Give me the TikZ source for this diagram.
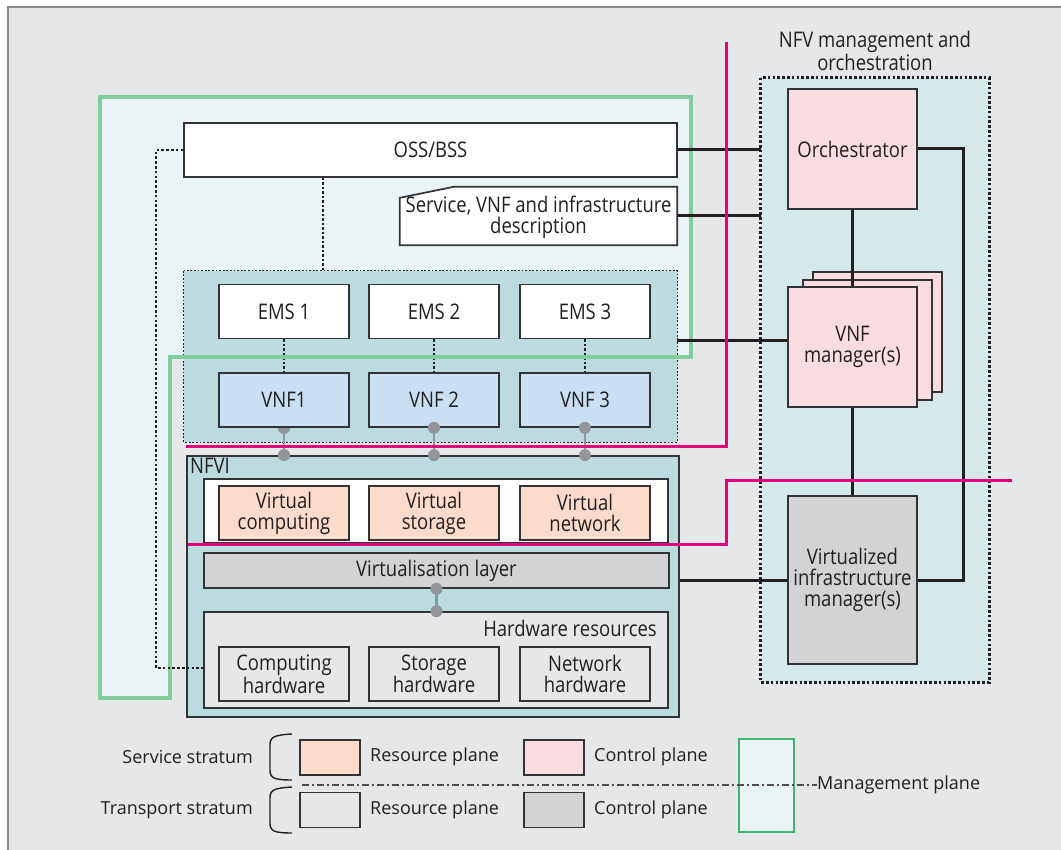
\documentclass[tikz,border=0pt]{standalone}
\usepackage{fontspec}
\setmainfont{Open Sans}
\newfontfamily\condfont[FakeStretch=0.86]{Open Sans}
\usetikzlibrary{calc}

\definecolor{bggray}{HTML}{E6E7E8}
\definecolor{framegray}{HTML}{8A8A8A}
\definecolor{boxline}{HTML}{333335}
\definecolor{txt}{HTML}{231F20}
\definecolor{mgmtfill}{HTML}{EAF3F5}
\definecolor{mgmtline}{HTML}{84CD9E}
\definecolor{mgmtkey}{HTML}{3FB56F}
\definecolor{tealfill}{HTML}{BBDBDE}
\definecolor{manofill}{HTML}{D5E8EA}
\definecolor{ctlpink}{HTML}{FBDCE0}
\definecolor{respeach}{HTML}{FDDBCB}
\definecolor{vnfblue}{HTML}{C9E0F2}
\definecolor{ctlgray}{HTML}{D1D3D4}
\definecolor{stratum}{HTML}{E6007E}
\definecolor{linkgray}{HTML}{939598}

\newcommand\lblfont{\condfont\fontsize{21.5}{21}\selectfont}
\newcommand\keyfont{\fontsize{18}{20}\selectfont}

\begin{document}
\begin{tikzpicture}[x=1pt,y=-1pt,
  box/.style={draw=boxline, line width=1.7pt, rectangle, inner sep=0pt,
    align=center, font=\lblfont, text=txt},
  cell/.style={box, minimum width=130, minimum height=54},
  swatch/.style={draw=boxline, line width=1.5pt, rectangle, inner sep=0pt,
    minimum width=60, minimum height=35},
  keytext/.style={font=\keyfont, text=txt, inner sep=0pt},
  link/.style={draw=txt, line width=3pt},
  hwlink/.style={draw=linkgray, line width=2.2pt},
  hwdot/.style={fill=linkgray},
  finedash/.style={draw=txt, line width=1.3pt, dash pattern=on 2.5pt off 2pt},
  finedot/.style={draw=txt, line width=1.3pt, dash pattern=on 1.8pt off 1.8pt},
  heavydot/.style={draw=txt, line width=2.8pt, dash pattern=on 2.6pt off 2.2pt},
  stratumline/.style={draw=stratum, line width=3pt},
]
\useasboundingbox (0,0) rectangle (1061,850);
\fill[white] (0,0) rectangle (1061,850);
\fill[bggray] (8,7) rectangle (1061,850);
\draw[framegray, line width=2pt] (8,850) -- (8,7) -- (1061,7);

% management plane area (fill only; outline drawn later on top)
\fill[mgmtfill] (100,97) -- (691,97) -- (691,357) -- (170,357) -- (170,698) -- (100,698) -- cycle;

% OSS/BSS and the description
\node[box, fill=white, minimum width=493, minimum height=54] (oss) at (430.5,150) {OSS/BSS};
\node[minimum width=277, minimum height=58, inner sep=0pt] (desc) at (538.5,216) {};
\filldraw[fill=white, draw=boxline, line width=1.7pt]
  ($(desc.north west)+(0,11)$) -- ($(desc.north west)+(54,0)$) -- (desc.north east)
  -- (desc.south east) -- (desc.south west) -- cycle;
\node[font=\lblfont, text=txt, align=center, inner sep=0pt] (desctext) at ($(desc.center)+(0,1)$)
  {Service, VNF and infrastructure\\description};

% EMS / VNF group
\node[draw=none, fill=tealfill, minimum width=493, minimum height=171, inner sep=0pt] (grp) at (430.5,356.5) {};
\draw[finedot] (grp.north west) rectangle (grp.south east);

\foreach \i/\x in {1/284,2/434,3/585}{
  \node[cell, fill=white] (ems\i) at (\x,311.5) {EMS \i};
}
% the first VNF's port dot sits partly under its box
\fill[hwdot] (284,428) circle (6);
\node[cell, fill=vnfblue] (vnf1) at (284,400) {VNF1};
\node[cell, fill=vnfblue] (vnf2) at (434,400) {VNF 2};
\node[cell, fill=vnfblue] (vnf3) at (585,400) {VNF 3};
\foreach \i in {1,2,3}{
  \draw[finedash] (ems\i.south) -- (vnf\i.north);
}
\draw[finedash] (oss.south -| 323,0) -- (grp.north -| 323,0);

% NFVI
\node[box, fill=tealfill, minimum width=492, minimum height=261] (nfvi) at (433,586.5) {};
\node[font=\lblfont, text=txt, anchor=north west, inner sep=0pt] (nfvilabel) at (190,458) {NFVI};
\node[box, fill=white, minimum width=464, minimum height=64] (vres) at (436,511) {};
\node[cell, fill=respeach] (vcomp) at (284,513) {Virtual\\computing};
\node[cell, fill=respeach] (vstor) at (434,513) {Virtual\\storage};
\node[cell, fill=respeach] (vnet) at (585,513) {Virtual\\network};
\node[box, fill=ctlgray, minimum width=465, minimum height=35] (vlayer) at (436.5,570.5) {Virtualisation layer};
\node[box, fill=bggray, minimum width=464, minimum height=96] (hw) at (436,660) {};
\node[font=\lblfont, text=txt, anchor=east, inner sep=0pt] (hwlabel) at (657,628) {Hardware resources};
\node[cell, fill=bggray] (hwcomp) at (284,674) {Computing\\hardware};
\node[cell, fill=bggray] (hwstor) at (434,674) {Storage\\hardware};
\node[cell, fill=bggray] (hwnet) at (585,674) {Network\\hardware};

% links from the VNFs down to the NFVI, and inside the NFVI
\draw[hwlink] (vnf1.south) -- (nfvi.north -| vnf1.south);
\foreach \i in {2,3}{
  \draw[hwlink] (vnf\i.south) -- (nfvi.north -| vnf\i.south);
  \fill[hwdot] (vnf\i.south) circle (6);
}
\foreach \i in {1,2,3}{
  \fill[hwdot] (nfvi.north -| vnf\i.south) circle (6);
}
\draw[hwlink] (vlayer.south) -- (hw.north -| vlayer.south);
\fill[hwdot] (vlayer.south) circle (6);
\fill[hwdot] (hw.north -| vlayer.south) circle (6);

% management plane outline
\draw[mgmtline, line width=3.5pt] (100,97) -- (691,97) -- (691,357) -- (170,357) -- (170,698) -- (100,698) -- cycle;

% OSS/BSS to the hardware resources
\draw[heavydot] (oss.west) -| (156,668) -- (hw.west |- 156,668);

% NFV management and orchestration
\node[draw=none, fill=manofill, minimum width=228, minimum height=604, inner sep=0pt] (mano) at (875,380) {};
\draw[heavydot] (mano.north west) rectangle (mano.south east);
\node[font=\lblfont, text=txt, align=center, inner sep=0pt] (manotitle) at (875,51)
  {NFV management and\\orchestration};
\node[box, fill=ctlpink, minimum width=129, minimum height=120] (orch) at (852.5,149) {Orchestrator};
\node[box, fill=ctlpink, minimum width=129, minimum height=120] (vnfmback2) at (877.5,332) {};
\node[box, fill=ctlpink, minimum width=129, minimum height=120] (vnfmback1) at (867.5,340) {};
\node[box, fill=ctlpink, minimum width=129, minimum height=120] (vnfm) at (852.5,347) {VNF\\manager(s)};
\node[box, fill=ctlgray, minimum width=129, minimum height=168] (vim) at (852.5,580)
  {Virtualized\\infrastructure\\manager(s)};

% reference points
\draw[link] (oss.east) -- (oss.east -| mano.west);
\draw[link] (desc.east) -- (desc.east -| mano.west);
\draw[link] ($(grp.east |- vnfm.west)+(0,-6)$) -- ($(vnfm.west)+(0,-6)$);
\draw[link] (orch.south) -- (vnfm.north);
\draw[link] (vnfm.south) -- (vim.north);
\draw[link] (orch.east) -- (963,149) |- (vim.east);
\draw[link] (vim.west -| nfvi.east) -- (vim.west);

% service / transport stratum boundary
\draw[stratumline] (726,42) -- (726,446) -- (nfvi.west |- 0,446);
\draw[stratumline] (1012,480) -- (726,480) -- (726,544) -- (188,544);

% key
\node[keytext, anchor=east] (svcstratum) at (253,757) {Service stratum};
\node[keytext, anchor=east] (trpstratum) at (253,810) {Transport stratum};
\draw[txt, line width=1.4pt] (292,734) .. controls (274,735) and (270,737) .. (270,745) -- (270,770)
  .. controls (270,778) and (274,780) .. (292,780);
\draw[txt, line width=1.4pt] (292,787) .. controls (274,788) and (270,790) .. (270,798) -- (270,823)
  .. controls (270,831) and (274,833) .. (292,833);
\node[swatch, fill=respeach] (keysres) at (330,757.5) {};
\node[keytext, anchor=west] (keysreslabel) at (370,757) {Resource plane};
\node[swatch, fill=ctlpink] (keysctl) at (554,757.5) {};
\node[keytext, anchor=west] (keysctllabel) at (594,757) {Control plane};
\node[swatch, fill=bggray] (keytres) at (330,810) {};
\node[keytext, anchor=west] (keytreslabel) at (370,810) {Resource plane};
\node[swatch, fill=ctlgray] (keytctl) at (554,810) {};
\node[keytext, anchor=west] (keytctllabel) at (594,810) {Control plane};
\node[draw=mgmtkey, line width=2pt, fill=mgmtfill, minimum width=55, minimum height=93, inner sep=0pt] (keymgmt) at (766.5,785.5) {};
\node[keytext, anchor=west] (keymgmtlabel) at (817,785) {Management plane};
\coordinate (keysplit) at (302,785);
\draw[txt!80, line width=1.3pt, dash pattern=on 7pt off 3pt on 2pt off 3pt] (keysplit) -- (keymgmtlabel.west);
\end{tikzpicture}
\end{document}
